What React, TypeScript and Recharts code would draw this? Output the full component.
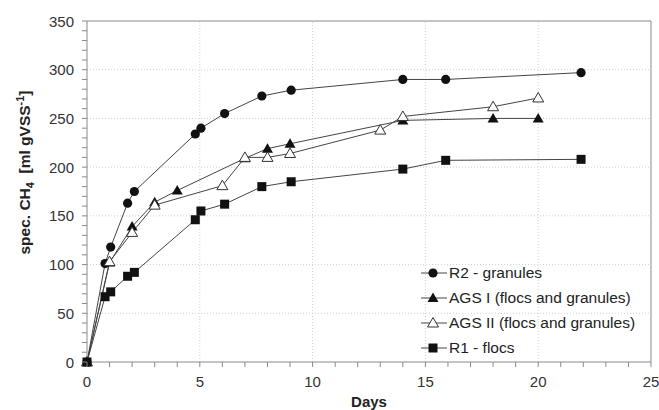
import React from "react"
import { LineChart, Line, XAxis, YAxis, ReferenceLine, Legend } from "recharts"

// days / specific CH4
const r2Days = [0, 0.8, 1.05, 1.8, 2.1, 4.8, 5.05, 6.1, 7.75, 9.05, 14, 15.9, 21.9]
const r2Ch4 = [0, 101, 118, 163, 175, 234, 240, 255, 273, 279, 290, 290, 297]

const agsIDays = [0, 1, 2, 3, 4, 7, 8, 9, 14, 18, 20]
const agsICh4 = [0, 102, 139, 164, 176, 209, 219, 224, 248, 250, 250]

const agsIIDays = [0, 1, 2, 3, 6, 7, 8, 9, 13, 14, 18, 20]
const agsIICh4 = [0, 103, 133, 161, 181, 210, 210, 214, 238, 252, 262, 271]

const r1Days = [0, 0.8, 1.05, 1.8, 2.1, 4.8, 5.05, 6.1, 7.75, 9.05, 14, 15.9, 21.9]
const r1Ch4 = [0, 67, 72, 88, 92, 146, 155, 162, 180, 185, 198, 207, 208]

const xMajor = [0, 5, 10, 15, 20, 25]
const yMajor = [0, 50, 100, 150, 200, 250, 300, 350]
const xMinor = Array.from({ length: 26 }, (_, i) => i)
const yMinor = Array.from({ length: 36 }, (_, i) => i * 10)

const FONT = "'Liberation Sans', Arial, sans-serif"
const INK = "#111"
const LINE = "#444"
const FRAME = "#8a8a8a"

const toPoints = (xs: number[], ys: number[]) => xs.map((x, i) => ({ x, y: ys[i] }))

type Shape = "circle" | "triangle" | "openTriangle" | "square"

function Marker({ cx, cy, shape }: { cx: number; cy: number; shape: Shape }) {
  if (shape === "circle") return <circle cx={cx} cy={cy} r={4.6} fill={INK} />
  if (shape === "square") return <rect x={cx - 4.5} y={cy - 4.5} width={9} height={9} fill={INK} />
  const pts = `${cx},${cy - 5.5} ${cx - 5.5},${cy + 4} ${cx + 5.5},${cy + 4}`
  if (shape === "triangle") return <polygon points={pts} fill={INK} />
  return <polygon points={pts} fill="#fff" stroke="#333" strokeWidth={1} />
}

const series: { name: string; shape: Shape; data: { x: number; y: number }[] }[] = [
  { name: "R2 - granules", shape: "circle", data: toPoints(r2Days, r2Ch4) },
  { name: "AGS I (flocs and granules)", shape: "triangle", data: toPoints(agsIDays, agsICh4) },
  { name: "AGS II (flocs and granules)", shape: "openTriangle", data: toPoints(agsIIDays, agsIICh4) },
  { name: "R1 - flocs", shape: "square", data: toPoints(r1Days, r1Ch4) },
]

function XTick(props: any) {
  const { x, y, payload } = props
  const major = payload.value % 5 === 0
  return (
    <g>
      <line x1={x} x2={x} y1={y} y2={y + 5} stroke={FRAME} />
      {major && (
        <text x={x} y={y + 25} textAnchor="middle" fontSize={15} fill="#333" fontFamily={FONT}>
          {payload.value}
        </text>
      )}
    </g>
  )
}

function YTick(props: any) {
  const { x, y, payload } = props
  const major = payload.value % 50 === 0
  return (
    <g>
      <line x1={x - 5} x2={x} y1={y} y2={y} stroke={FRAME} />
      {major && (
        <text x={x - 13} y={y + 5.5} textAnchor="end" fontSize={15} fill="#333" fontFamily={FONT}>
          {payload.value}
        </text>
      )}
    </g>
  )
}

function YTitle(props: any) {
  const { viewBox } = props
  const cx = 30
  const cy = viewBox.y + viewBox.height / 2 - 19
  return (
    <text
      transform={`translate(${cx},${cy}) rotate(-90)`}
      textAnchor="middle"
      fontSize={15.5}
      fontWeight="bold"
      fill="#222"
      fontFamily={FONT}
    >
      spec. CH<tspan fontSize={11} dy={4}>4</tspan>
      <tspan dy={-4}>{"\u00a0\u00a0[ml gVSS"}</tspan>
      <tspan fontSize={11} dy={-6}>-1</tspan>
      <tspan dy={6}>]</tspan>
    </text>
  )
}

function LegendBox() {
  return (
    <div style={{ fontFamily: FONT, fontSize: 15.5, color: "#222" }}>
      {series.map((s) => (
        <div key={s.name} style={{ display: "flex", alignItems: "center", height: 25 }}>
          <svg width={28} height={14} style={{ marginRight: 0 }}>
            <line x1={0} x2={26} y1={7} y2={7} stroke={LINE} />
            <Marker cx={12} cy={7} shape={s.shape} />
          </svg>
          <span>{s.name}</span>
        </div>
      ))}
    </div>
  )
}

export default function App() {
  return (
    <div style={{ position: "absolute", left: 0, top: 0, background: "#fff" }}>
      <LineChart width={659} height={410} margin={{ top: 21, right: 8, bottom: 0, left: 0 }}>
        {xMajor.slice(1, -1).map((v) => (
          <ReferenceLine key={`gx${v}`} x={v} stroke="#d0d0d0" strokeDasharray="1 2" />
        ))}
        {yMajor.slice(1, -1).map((v) => (
          <ReferenceLine key={`gy${v}`} y={v} stroke="#d0d0d0" strokeDasharray="1 2" />
        ))}
        <ReferenceLine y={350} stroke={FRAME} />
        <ReferenceLine x={25} stroke={FRAME} />
        <XAxis
          type="number"
          dataKey="x"
          domain={[0, 25]}
          ticks={xMinor}
          interval={0}
          height={48}
          tickSize={0}
          tickMargin={0}
          tickLine={false}
          axisLine={{ stroke: FRAME }}
          tick={<XTick />}
          label={{
            value: "Days",
            position: "insideBottom",
            offset: 3,
            style: { fontFamily: FONT, fontSize: 15, fontWeight: "bold", fill: "#222" },
          }}
        />
        <YAxis
          type="number"
          dataKey="y"
          domain={[0, 350]}
          ticks={yMinor}
          interval={0}
          width={87}
          tickSize={0}
          tickMargin={0}
          tickLine={false}
          axisLine={{ stroke: FRAME }}
          tick={<YTick />}
          label={{ content: <YTitle /> }}
        />
        {series.map((s) => (
          <Line
            key={s.name}
            data={s.data}
            dataKey="y"
            name={s.name}
            type="linear"
            stroke={LINE}
            strokeWidth={1}
            isAnimationActive={false}
            dot={(p: any) => <Marker key={`${s.name}-${p.index}`} cx={p.cx} cy={p.cy} shape={s.shape} />}
            activeDot={false}
          />
        ))}
        <Legend
          layout="vertical"
          align="center"
          verticalAlign="middle"
          content={<LegendBox />}
          wrapperStyle={{ position: "absolute", left: 421, top: 260, width: "auto", height: "auto" }}
        />
      </LineChart>
    </div>
  )
}
